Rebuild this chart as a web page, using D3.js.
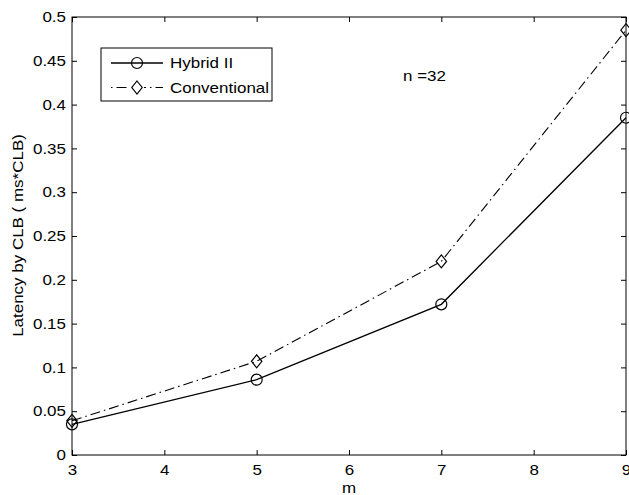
<!DOCTYPE html>
<html><head><meta charset="utf-8">
<script src="https://cdn.jsdelivr.net/npm/d3@7/dist/d3.min.js"></script>
<style>
body{margin:0;background:#fff;}
text{font-family:"Liberation Sans",Arial,Helvetica,sans-serif;fill:#000;}
</style></head>
<body>
<svg id="chart" width="629" height="495"></svg>
<script>
const mValues = [3, 5, 7, 9];
const hybridII = [0.035, 0.086, 0.172, 0.385];
const conventional = [0.039, 0.107, 0.221, 0.485];
const xTicks = [3, 4, 5, 6, 7, 8, 9];
const yTicks = [0, 0.05, 0.1, 0.15, 0.2, 0.25, 0.3, 0.35, 0.4, 0.45, 0.5];
const yTickLabels = ["0", "0.05", "0.1", "0.15", "0.2", "0.25", "0.3", "0.35", "0.4", "0.45", "0.5"];

const L = 72, R = 626, T = 17, B = 455;
const svg = d3.select("#chart");
const x = d3.scaleLinear().domain([3, 9]).range([L, R]);
const y = d3.scaleLinear().domain([0, 0.5]).range([B, T]);
const fs = 14.5;
const stretch = 1.17;

// frame
svg.append("rect").attr("x", L).attr("y", T).attr("width", R - L).attr("height", B - T)
  .attr("fill", "none").attr("stroke", "#000").attr("stroke-width", 1);

// axes with inward ticks
const tickLen = 5;
const xAxisB = d3.axisBottom(x).tickValues(xTicks).tickSize(-tickLen).tickPadding(10).tickFormat(d3.format("d"));
const gxb = svg.append("g").attr("transform", `translate(0,${B})`).call(xAxisB);
const xAxisT = d3.axisTop(x).tickValues(xTicks).tickSize(-tickLen).tickFormat("");
const gxt = svg.append("g").attr("transform", `translate(0,${T})`).call(xAxisT);
const yAxisL = d3.axisLeft(y).tickValues(yTicks).tickSize(-tickLen).tickPadding(6)
  .tickFormat((d, i) => yTickLabels[i]);
const gyl = svg.append("g").attr("transform", `translate(${L},0)`).call(yAxisL);
const yAxisR = d3.axisRight(y).tickValues(yTicks).tickSize(-tickLen).tickFormat("");
const gyr = svg.append("g").attr("transform", `translate(${R},0)`).call(yAxisR);
[gxb, gxt, gyl, gyr].forEach(g => {
  g.select(".domain").remove();
  g.selectAll(".tick line").attr("stroke", "#000");
  g.selectAll("text").style("font-size", fs + "px").style("font-family", "'Liberation Sans',Arial,sans-serif").attr("fill", "#000");
});

// lines
const line = d3.line().x((d, i) => x(mValues[i])).y(d => y(d));
svg.append("path").datum(conventional).attr("d", line).attr("fill", "none")
  .attr("stroke", "#000").attr("stroke-width", 1.1).attr("stroke-dasharray", "10,4,1.5,4");
svg.append("path").datum(hybridII).attr("d", line).attr("fill", "none")
  .attr("stroke", "#000").attr("stroke-width", 1.3);

// markers
function diamond(g, cx, cy, s) {
  g.append("path").attr("d", `M${cx},${cy - s}L${cx + s * 0.8},${cy}L${cx},${cy + s}L${cx - s * 0.8},${cy}Z`)
    .attr("fill", "none").attr("stroke", "#000").attr("stroke-width", 1.2);
}
const mk = svg.append("g");
conventional.forEach((v, i) => diamond(mk, x(mValues[i]), y(v), 6.5));
hybridII.forEach((v, i) => mk.append("circle").attr("cx", x(mValues[i])).attr("cy", y(v)).attr("r", 5.5)
  .attr("fill", "none").attr("stroke", "#000").attr("stroke-width", 1.2));

// legend
const lg = svg.append("g");
lg.append("rect").attr("x", 101).attr("y", 48).attr("width", 171).attr("height", 53)
  .attr("fill", "#fff").attr("stroke", "#000").attr("stroke-width", 1);
lg.append("line").attr("x1", 111).attr("x2", 163).attr("y1", 63).attr("y2", 63).attr("stroke", "#000").attr("stroke-width", 1.3);
lg.append("circle").attr("cx", 137).attr("cy", 63).attr("r", 5.5).attr("fill", "none").attr("stroke", "#000").attr("stroke-width", 1.2);
lg.append("line").attr("x1", 111).attr("x2", 163).attr("y1", 87.5).attr("y2", 87.5).attr("stroke", "#000").attr("stroke-width", 1.1)
  .attr("stroke-dasharray", "1.5,4,10,4");
lg.append("rect").attr("x", 130).attr("y", 81).attr("width", 14).attr("height", 13).attr("fill", "#fff");
diamond(lg, 137, 87.5, 6.5);
lg.append("text").attr("x", 170).attr("y", 68).style("font-size", fs + "px").text("Hybrid II");
lg.append("text").attr("x", 170).attr("y", 92.5).style("font-size", fs + "px").text("Conventional");

// annotation
svg.append("text").attr("x", 403).attr("y", 81).style("font-size", fs + "px").text("n =32");

// axis titles
svg.append("text").attr("x", x(6)).attr("y", 493).attr("text-anchor", "middle").style("font-size", fs + "px").text("m");
svg.append("text").attr("transform", `translate(23,${235.5}) rotate(-90)`).attr("text-anchor", "middle")
  .style("font-size", fs + "px").text("Latency by CLB ( ms*CLB)");

// widen glyphs horizontally to match the reference's wide lettering
svg.selectAll("text").each(function () {
  const len = this.getComputedTextLength();
  if (len > 0) d3.select(this).attr("textLength", len * stretch).attr("lengthAdjust", "spacingAndGlyphs");
});
</script>
</body></html>
